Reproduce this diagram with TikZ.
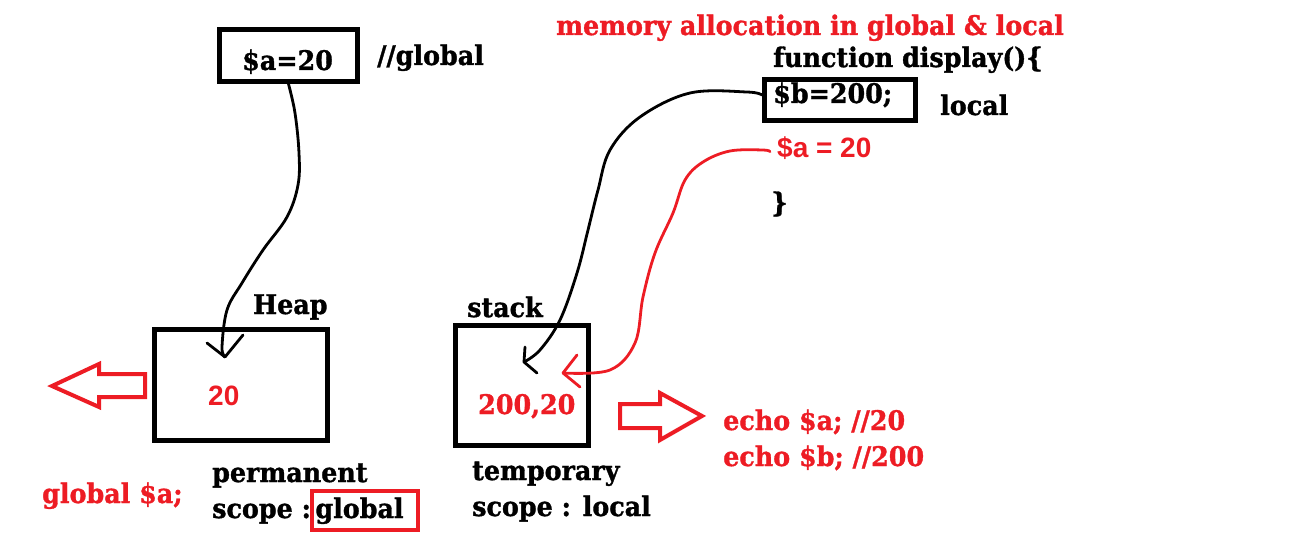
\documentclass[tikz,border=0pt]{standalone}
\usepackage{fontspec}
\newfontfamily\slab{DejaVu Serif}[FakeStretch=0.94, FakeBold=1.2]
\newfontfamily\sansb{Liberation Sans}
\definecolor{pred}{RGB}{237,28,36}
\begin{document}
\begin{tikzpicture}[x=1pt,y=-1pt,
 t/.style={font=\slab\bfseries\fontsize{27}{31}\selectfont, anchor=base west, inner sep=0pt},
 rt/.style={t, text=pred},
 st/.style={font=\sansb\bfseries\fontsize{28}{32}\selectfont, anchor=base west, inner sep=0pt, text=pred},
 bx/.style={draw, line width=5pt, rectangle, inner sep=0pt},
 curve/.style={line width=2.8pt, line cap=round, line join=round},
 hollow/.style={draw=pred, line width=4pt, line join=miter}
]
\useasboundingbox (0,0) rectangle (1304,548);
% top left
\node[bx, minimum width=138pt, minimum height=52pt] (abox) at (288.5,55.5) {};
\node[t] (aval) at (242,70) {\$a=20};
\node[t] (gcom) at (377,65) {//global};
% title and function
\node[rt] (title) at (556,35) {memory allocation in global \& local};
\node[t] (fn) at (773,67) {function display()\{};
\node[bx, minimum width=151pt, minimum height=41pt] (bbox) at (840,100) {};
\node[t] (bval) at (773,103) {\$b=200;};
\node[t] (loc) at (940,115) {local};
\node[st] (aloc) at (777,158) {\$a = 20};
\node[t] (close) at (771,212) {\}};
% heap
\node[t] (heapl) at (253,314) {Heap};
\node[bx, minimum width=173pt, minimum height=111pt] (heap) at (241,385) {};
\node[st] (hv) at (208,405) {20};
% stack
\node[t] (stackl) at (467,317) {stack};
\node[bx, minimum width=133pt, minimum height=120pt] (stack) at (522,385.5) {};
\node[rt] (sv) at (478,414) {200,20};
% bottom texts
\node[rt] (glob) at (42,503) {global \$a;};
\node[t] (perm) at (212,482) {permanent};
\node[t] (scg) at (212,518) {scope :\,global};
\node[draw=pred, line width=4pt, minimum width=106pt, minimum height=39pt] (gbox) at (365,510.5) {};
\node[t] (temp) at (472,480) {temporary};
\node[t] (scl) at (472,516) {scope : local};
\node[rt] (e1) at (723,430) {echo \$a; //20};
\node[rt] (e2) at (723,466) {echo \$b; //200};
% hollow arrows
\draw[hollow] (145,374) -- (99,374) -- (99,364) -- (52,386) -- (99,407) -- (99,397) -- (145,397) -- cycle;
\draw[hollow] (620,404) -- (660,404) -- (660,393) -- (702,416) -- (660,440) -- (660,428) -- (620,428) -- cycle;
% curve a -> heap
\coordinate (tipH) at (225,357);
\draw[curve] plot[smooth, tension=0.6] coordinates {(abox.south) (295,113) (299,153) (298,185) (287,217) (263,250) (242,283) (227,310) (222,347) (tipH)};
\draw[curve] (207,343) -- (tipH) -- (243,335);
% curve b -> stack
\coordinate (tipS) at (524,362);
\draw[curve] plot[smooth, tension=0.6] coordinates {([yshift=5pt]bbox.west) (747,92) (690,93) (640,117) (610,150) (598,190) (588,230) (577,273) (560,320) (540,350) (tipS)};
\draw[curve] (525,347) -- (tipS) -- (537,373);
% curve a local -> stack
\coordinate (tipR) at (563,373);
\draw[curve, pred] plot[smooth, tension=0.6] coordinates {([xshift=-7pt,yshift=-3pt]aloc.west) (763,150) (730,151) (703,162) (685,180) (673,213) (655,253) (643,297) (635,343) (610,370) (tipR)};
\draw[curve, pred] (577,355) -- (tipR) -- (580,387);
\end{tikzpicture}
\end{document}
